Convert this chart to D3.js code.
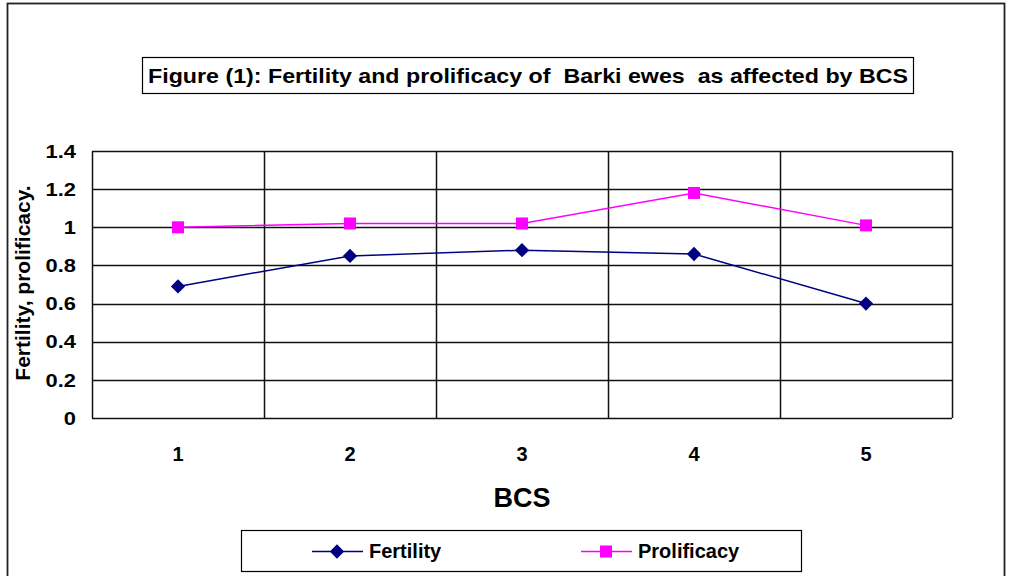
<!DOCTYPE html>
<html>
<head>
<meta charset="utf-8">
<script src="https://cdn.jsdelivr.net/npm/d3@7"></script>
<style>
  body { margin: 0; background: #fff; }
  text { font-family: "Liberation Sans", Arial, sans-serif; font-weight: bold; }
</style>
</head>
<body>
<svg id="chart"></svg>
<script>
const categories = ["1", "2", "3", "4", "5"];
const fertility = [0.69, 0.85, 0.88, 0.86, 0.60];
const prolificacy = [1.0, 1.02, 1.02, 1.18, 1.01];
const yTicks = [0, 0.2, 0.4, 0.6, 0.8, 1, 1.2, 1.4];

const width = 1011;
const height = 576;
const svg = d3.select("#chart").attr("width", width).attr("height", height);

// outer frame
svg.append("rect")
  .attr("x", 7.5).attr("y", 3.5)
  .attr("width", 997).attr("height", 600)
  .attr("fill", "none").attr("stroke", "#222").attr("stroke-width", 1.8);

// title box
svg.append("rect")
  .attr("x", 142.5).attr("y", 57.5)
  .attr("width", 771).attr("height", 36)
  .attr("fill", "#fff").attr("stroke", "#000").attr("stroke-width", 1.2);
svg.append("text")
  .attr("x", 528).attr("y", 83)
  .attr("text-anchor", "middle")
  .attr("textLength", 760).attr("lengthAdjust", "spacingAndGlyphs")
  .style("font-size", "21px")
  .style("white-space", "pre")
  .text("Figure (1): Fertility and prolificacy of  Barki ewes  as affected by BCS");

const plot = { left: 92, right: 952, top: 151, bottom: 418 };

const x = d3.scaleBand().domain(categories).range([plot.left, plot.right]);
const y = d3.scaleLinear().domain([0, 1.4]).range([plot.bottom, plot.top]);

// horizontal gridlines
svg.append("g")
  .selectAll("line")
  .data(yTicks)
  .join("line")
  .attr("x1", plot.left).attr("x2", plot.right)
  .attr("y1", d => Math.round(y(d)) + 0.5).attr("y2", d => Math.round(y(d)) + 0.5)
  .attr("stroke", "#111").attr("stroke-width", 1.5);

// vertical lines between categories
const xEdges = categories.map(c => x(c)).concat([plot.right]);
svg.append("g")
  .selectAll("line")
  .data(xEdges)
  .join("line")
  .attr("x1", d => Math.round(d) + 0.5).attr("x2", d => Math.round(d) + 0.5)
  .attr("y1", plot.top).attr("y2", plot.bottom)
  .attr("stroke", "#111").attr("stroke-width", 1.5);

// y tick labels
svg.append("g")
  .selectAll("text")
  .data(yTicks)
  .join("text")
  .attr("transform", d => `translate(76,${y(d)}) scale(1.15,1)`)
  .attr("dy", "0.35em")
  .attr("text-anchor", "end")
  .style("font-size", "19px")
  .text(d => d3.format("~g")(d));

// x tick labels
svg.append("g")
  .selectAll("text")
  .data(categories)
  .join("text")
  .attr("x", d => x(d) + x.bandwidth() / 2).attr("y", 461)
  .attr("text-anchor", "middle")
  .style("font-size", "20px")
  .text(d => d);

// axis titles
svg.append("text")
  .attr("x", 522).attr("y", 507)
  .attr("text-anchor", "middle")
  .style("font-size", "27px")
  .text("BCS");

svg.append("text")
  .attr("transform", "translate(30, 283) rotate(-90)")
  .attr("text-anchor", "middle")
  .style("font-size", "21px")
  .text("Fertility, prolificacy.");

const cx = (d, i) => x(categories[i]) + x.bandwidth() / 2;
const line = d3.line().x((d, i) => cx(d, i)).y(d => y(d));

const diamond = d3.symbol().type(d3.symbolDiamond2).size(130);

// prolificacy series
svg.append("path")
  .datum(prolificacy)
  .attr("d", line)
  .attr("fill", "none").attr("stroke", "#ff00ff").attr("stroke-width", 1.5);
svg.append("g")
  .selectAll("rect")
  .data(prolificacy)
  .join("rect")
  .attr("x", (d, i) => cx(d, i) - 6).attr("y", d => y(d) - 6)
  .attr("width", 12).attr("height", 12)
  .attr("fill", "#ff00ff");

// fertility series
svg.append("path")
  .datum(fertility)
  .attr("d", line)
  .attr("fill", "none").attr("stroke", "#000080").attr("stroke-width", 1.5);
svg.append("g")
  .selectAll("path")
  .data(fertility)
  .join("path")
  .attr("transform", (d, i) => `translate(${cx(d, i)},${y(d)})`)
  .attr("d", diamond)
  .attr("fill", "#000080");

// legend
const legend = svg.append("g");
legend.append("rect")
  .attr("x", 241.5).attr("y", 530.5)
  .attr("width", 560).attr("height", 41)
  .attr("fill", "#fff").attr("stroke", "#000").attr("stroke-width", 1.2);

const legendItems = [
  { name: "Fertility", color: "#000080", x0: 312, shape: "diamond" },
  { name: "Prolificacy", color: "#ff00ff", x0: 581, shape: "square" }
];
legendItems.forEach(item => {
  const g = legend.append("g");
  g.append("line")
    .attr("x1", item.x0).attr("x2", item.x0 + 51)
    .attr("y1", 551.5).attr("y2", 551.5)
    .attr("stroke", item.color).attr("stroke-width", 1.5);
  if (item.shape === "diamond") {
    g.append("path")
      .attr("transform", `translate(${item.x0 + 25},551.5)`)
      .attr("d", diamond)
      .attr("fill", item.color);
  } else {
    g.append("rect")
      .attr("x", item.x0 + 19).attr("y", 545.5)
      .attr("width", 12).attr("height", 12)
      .attr("fill", item.color);
  }
  g.append("text")
    .attr("x", item.x0 + 57).attr("y", 551)
    .attr("dy", "0.35em")
    .style("font-size", "20px")
    .text(item.name);
});
</script>
</body>
</html>
